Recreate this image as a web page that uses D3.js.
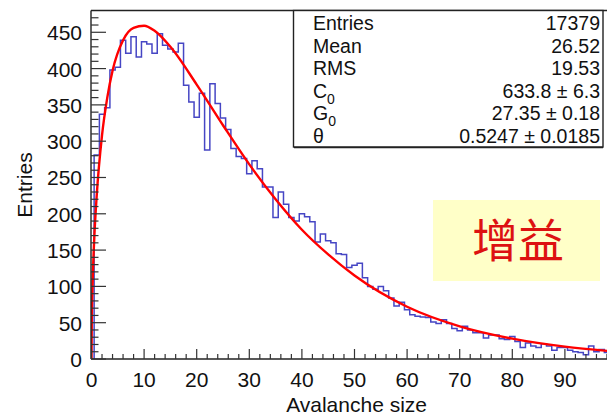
<!DOCTYPE html>
<html>
<head>
<meta charset="utf-8">
<script src="https://cdn.jsdelivr.net/npm/d3@7"></script>
<style>
  body { margin: 0; background: #fff; }
  text { font-family: "Liberation Sans", Arial, Helvetica, sans-serif; fill: #111; }
</style>
</head>
<body>
<script>
// Datos del histograma: bins de anchura 1 centrados en enteros (1..99)
let binFirst = 1;
let binWidth = 1;
let counts = [281, 337, 346, 398, 402, 439, 421, 444, 416, 437,
              434, 421, 448, 432, 427, 423, 435, 377, 354, 333,
              366, 288, 379, 352, 332, 316, 290, 279, 276, 255,
              273, 262, 237, 237, 195, 230, 213, 195, 190, 200,
              196, 189, 161, 172, 163, 160, 145, 144, 126, 129,
              132, 112, 100, 96, 100, 94, 84, 73, 78, 68,
              61, 59, 58, 57, 51, 49, 54, 49, 42, 39,
              45, 40, 36, 36, 29, 33, 33, 28, 27, 31,
              24, 16, 22, 18, 16, 21, 18, 12, 16, 16,
              12, 10, 9, 6, 18, 10, 13, 9, 10];

// Curva de ajuste (Polya)
let fitX = [0, 0.05, 0.2, 0.5, 1, 2, 3, 4, 6, 8, 10, 12, 15, 20, 25, 30, 35, 40, 45, 50, 60, 70, 80, 90, 100];
let fitY = [0, 50, 102, 162, 226, 308, 360, 397, 439, 456, 459, 452, 430, 378, 322, 268, 220, 178, 144, 115, 72, 45, 28, 17, 10];

// Caja de estadisticas
let statNames = ["Entries", "Mean", "RMS", "C", "G", "θ"];
let statSubs = ["", "", "", "0", "0", ""];
let statValues = ["17379", "26.52", "19.53", "633.8 ± 6.3", "27.35 ± 0.18", "0.5247 ± 0.0185"];

let xMajor = d3.range(0, 101, 10);
let xMinor = d3.range(0, 101, 2);
let yMajor = d3.range(0, 451, 50);
let yMinor = d3.range(0, 480, 10);

let width = 607, height = 416;
let plotLeft = 91, plotTop = 10.5, plotBottom = 359;

let svg = d3.select("body").append("svg")
  .attr("width", width)
  .attr("height", height);

let x = d3.scaleLinear().domain([0, 100]).range([91.5, 617.5]);
let y = d3.scaleLinear().domain([0, 480]).range([plotBottom, plotTop]);

svg.append("clipPath").attr("id", "plot")
  .append("rect")
  .attr("x", plotLeft).attr("y", plotTop)
  .attr("width", width - plotLeft).attr("height", plotBottom - plotTop);

// Histograma como escalones
let pts = [[x(binFirst - binWidth / 2), y(0)]];
counts.forEach(function(c, i) {
  let x0 = x(binFirst + i * binWidth - binWidth / 2);
  let x1 = x(binFirst + i * binWidth + binWidth / 2);
  pts.push([x0, y(c)]);
  pts.push([x1, y(c)]);
});

svg.append("path")
  .attr("clip-path", "url(#plot)")
  .attr("d", d3.line()(pts))
  .attr("fill", "none")
  .attr("stroke", "#4646c4")
  .attr("stroke-width", 1.5);

// Curva roja del ajuste
let fitLine = d3.line()
  .x(function(d, i) { return x(d); })
  .y(function(d, i) { return y(fitY[i]); })
  .curve(d3.curveMonotoneX);

svg.append("path")
  .attr("clip-path", "url(#plot)")
  .attr("d", fitLine(fitX))
  .attr("fill", "none")
  .attr("stroke", "#ff0000")
  .attr("stroke-width", 2.4);

// Marco
let frame = svg.append("g").attr("stroke", "#222").attr("stroke-width", 1.4);
frame.append("line").attr("x1", plotLeft).attr("x2", plotLeft).attr("y1", plotTop).attr("y2", plotBottom);
frame.append("line").attr("x1", plotLeft).attr("x2", width).attr("y1", plotTop).attr("y2", plotTop);
frame.append("line").attr("x1", plotLeft).attr("x2", width).attr("y1", plotBottom).attr("y2", plotBottom);

// Ticks eje x (hacia dentro)
svg.append("g").selectAll("line")
  .data(xMinor)
  .enter().append("line")
  .attr("x1", function(d) { return x(d); })
  .attr("x2", function(d) { return x(d); })
  .attr("y1", plotBottom)
  .attr("y2", function(d) { return d % 10 === 0 ? plotBottom - 10 : plotBottom - 5; })
  .attr("stroke", "#333")
  .attr("stroke-width", 1.2);

svg.append("g").selectAll("text")
  .data(xMajor.filter(function(d) { return d < 100; }))
  .enter().append("text")
  .attr("x", function(d) { return x(d); })
  .attr("y", 387)
  .attr("text-anchor", "middle")
  .attr("font-size", 21)
  .text(function(d) { return d; });

// Ticks eje y
svg.append("g").selectAll("line")
  .data(yMinor)
  .enter().append("line")
  .attr("x1", plotLeft)
  .attr("x2", function(d) { return d % 50 === 0 ? plotLeft + 15 : plotLeft + 7.5; })
  .attr("y1", function(d) { return y(d); })
  .attr("y2", function(d) { return y(d); })
  .attr("stroke", "#333")
  .attr("stroke-width", 1.2);

svg.append("g").selectAll("text")
  .data(yMajor)
  .enter().append("text")
  .attr("x", 82)
  .attr("y", function(d) { return y(d) + 8; })
  .attr("text-anchor", "end")
  .attr("font-size", 21)
  .text(function(d) { return d; });

// Titulos de ejes
svg.append("text")
  .attr("transform", "translate(32,185) rotate(-90)")
  .attr("text-anchor", "middle")
  .attr("font-size", 21)
  .text("Entries");

svg.append("text")
  .attr("x", 427)
  .attr("y", 412)
  .attr("text-anchor", "end")
  .attr("font-size", 21)
  .text("Avalanche size");

// Caja de estadisticas
let box = svg.append("g");
box.append("rect")
  .attr("x", 293.5).attr("y", plotTop)
  .attr("width", 309.5).attr("height", 136.5)
  .attr("fill", "#fff")
  .attr("stroke", "#222")
  .attr("stroke-width", 1.4);
box.append("line")
  .attr("x1", 294).attr("x2", 603).attr("y1", 147.5).attr("y2", 147.5)
  .attr("stroke", "#222").attr("stroke-width", 1.6);

statNames.forEach(function(n, i) {
  let yy = 30 + i * 22.6;
  let t = box.append("text")
    .attr("x", 313)
    .attr("y", yy)
    .attr("font-size", 19.5);
  t.append("tspan").text(n);
  if (statSubs[i]) {
    t.append("tspan")
      .attr("font-size", 14)
      .attr("dy", 6)
      .text(statSubs[i]);
  }
  box.append("text")
    .attr("x", 600)
    .attr("y", yy)
    .attr("text-anchor", "end")
    .attr("font-size", 19.5)
    .text(statValues[i]);
});

// Recuadro amarillo con texto chino
svg.append("rect")
  .attr("x", 433).attr("y", 200)
  .attr("width", 167).attr("height", 81)
  .attr("fill", "#ffffc8");

svg.append("text")
  .attr("x", 518)
  .attr("y", 257)
  .attr("text-anchor", "middle")
  .attr("font-size", 46)
  .style("font-family", "'Noto Sans CJK SC', sans-serif")
  .style("fill", "#dd1111")
  .text("增益");
</script>
</body>
</html>
